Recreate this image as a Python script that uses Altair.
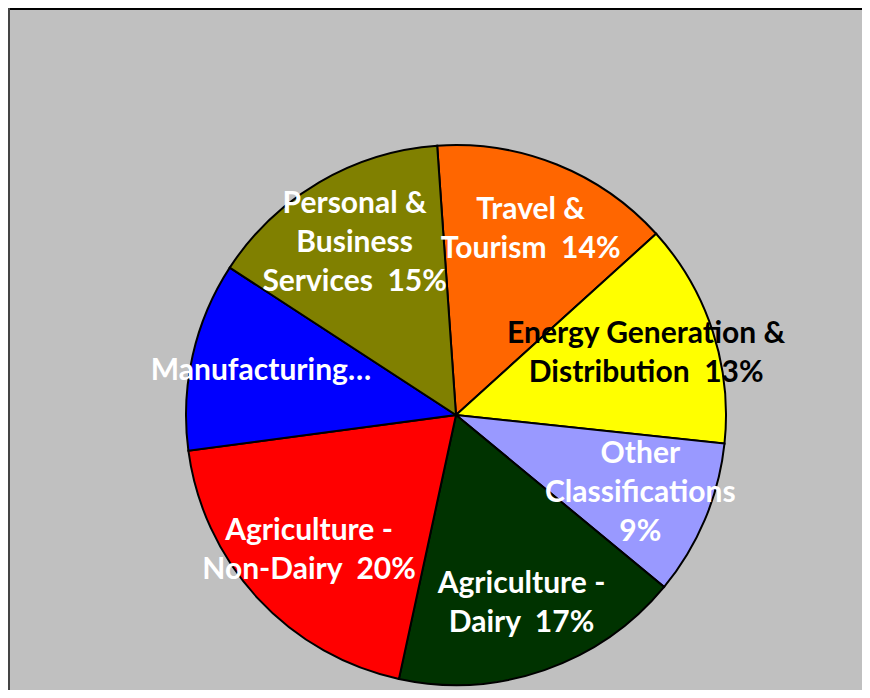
import altair as alt
import pandas as pd

categories = [
    "Travel & Tourism",
    "Energy Generation & Distribution",
    "Other Classifications",
    "Agriculture - Dairy",
    "Agriculture - Non-Dairy",
    "Manufacturing",
    "Personal & Business Services",
]
values = [14.4, 13.4, 9.3, 17.4, 19.5, 11.3, 14.7]
labels = [
    "Travel &\nTourism\u00a0 14%",
    "Energy Generation &\nDistribution\u00a0 13%",
    "Other\nClassifications\n9%",
    "Agriculture -\nDairy\u00a0 17%",
    "Agriculture -\nNon-Dairy\u00a0 20%",
    "Manufacturing…",
    "Personal &\nBusiness\nServices\u00a0 15%",
]
colors = ["#FF6600", "#FFFF00", "#9999FF", "#003300", "#FF0000", "#0000FF", "#808000"]

df = pd.DataFrame({
    "category": categories,
    "value": values,
    "label": labels,
    "idx": list(range(len(categories))),
})

PI = 3.141592653589793
start = -4.0 * PI / 180
total = float(sum(values))
theta_scale = alt.Scale(domain=[0, total], range=[start, start + 2 * PI])
cx, cy = 448, 407
line_h = 39

base = alt.Chart(df)

arcs = base.mark_arc(outerRadius=270, stroke="black", strokeWidth=2).encode(
    theta=alt.Theta("value:Q", stack=True, scale=theta_scale),
    color=alt.Color("category:N", scale=alt.Scale(domain=categories, range=colors), legend=None),
    order=alt.Order("idx:Q"),
    x=alt.value(cx),
    y=alt.value(cy),
)

texts = base.transform_window(
    cum="sum(value)", sort=[alt.SortField("idx")], frame=[None, 0]
).transform_calculate(
    mid="datum.cum - datum.value / 2",
    nlines="length(split(datum.label, '\\n'))",
    yoff=f"-(datum.nlines - 1) * {line_h} / 2",
).mark_text(
    radius=200, font="Lato", fontSize=30, fontWeight="bold",
    lineBreak="\n", lineHeight=line_h, align="center", baseline="middle",
).encode(
    theta=alt.Theta("mid:Q", stack=None, scale=theta_scale),
    text="label:N",
    yOffset=alt.YOffset("yoff:Q", scale=None),
    color=alt.condition(
        alt.datum.category == "Energy Generation & Distribution",
        alt.value("black"), alt.value("white"),
    ),
    x=alt.value(cx),
    y=alt.value(cy),
)

top_rule = alt.Chart(df).mark_rule(color="black", strokeWidth=1.5).encode(
    x=alt.value(0), x2=alt.value(854), y=alt.value(0.75)
)
left_rule = alt.Chart(df).mark_rule(color="#444444", strokeWidth=1.5).encode(
    x=alt.value(0.75), y=alt.value(0), y2=alt.value(682)
)

chart = alt.layer(arcs, texts, top_rule, left_rule).properties(
    width=854, height=682, background="#C0C0C0", padding=0,
    autosize=alt.AutoSizeParams(type="none"),
).configure_view(stroke=None)

chart.save("out.html", embed_options={"renderer": "svg", "actions": False})
